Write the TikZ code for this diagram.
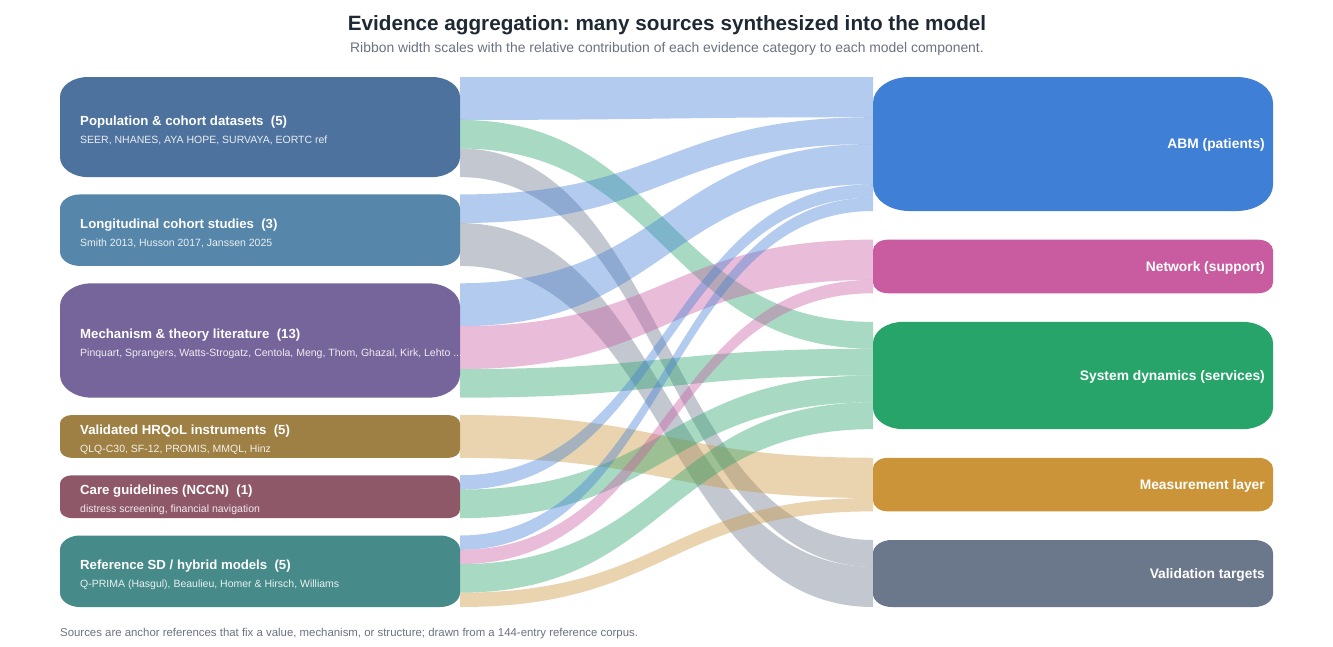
\documentclass[tikz,border=0pt]{standalone}
\usepackage{fontspec}
\setmainfont{Liberation Sans}
\usetikzlibrary{calc}
\frenchspacing
\definecolor{cPop}{HTML}{4E729E}
\definecolor{cLong}{HTML}{5686A9}
\definecolor{cMech}{HTML}{75659B}
\definecolor{cHrq}{HTML}{9E8044}
\definecolor{cCare}{HTML}{8F5869}
\definecolor{cRef}{HTML}{468B89}
\definecolor{cAbm}{HTML}{3F7FD5}
\definecolor{cNet}{HTML}{C95BA1}
\definecolor{cSys}{HTML}{27A46A}
\definecolor{cMeas}{HTML}{CB9438}
\definecolor{cVal}{HTML}{6B778A}
\definecolor{cTitle}{HTML}{1F2933}
\definecolor{cGrey}{HTML}{6B7280}
\newcommand\unitL{14.3pt}
\newcommand\unitR{13.4pt}
% rounded box with elliptical corners: name, cx, cy, w, h, colour
\newcommand\ebox[6]{%
  \node[minimum width=#4pt, minimum height=#5pt, inner sep=0pt, outer sep=0pt] (#1) at (#2,#3) {};
  \pgfmathsetmacro\boxry{min(0.2*#5,26)}%
  \pgfmathsetmacro\boxrx{1.4*\boxry}%
  \fill[#6] ([xshift=\boxrx pt]#1.north west) -- ([xshift=-\boxrx pt]#1.north east)
    arc[start angle=90, end angle=0, x radius=\boxrx pt, y radius=\boxry pt]
    -- ([yshift=\boxry pt]#1.south east)
    arc[start angle=0, end angle=-90, x radius=\boxrx pt, y radius=\boxry pt]
    -- ([xshift=\boxrx pt]#1.south west)
    arc[start angle=270, end angle=180, x radius=\boxrx pt, y radius=\boxry pt]
    -- ([yshift=-\boxry pt]#1.north west)
    arc[start angle=180, end angle=90, x radius=\boxrx pt, y radius=\boxry pt]
    -- cycle;}
% ribbon: colour, source, source offset (units), target, target offset (units), width (units)
\newcommand\ribbon[6]{%
  \fill[#1, fill opacity=0.4]
    ([yshift=-#3*\unitL]#2.north east)
    .. controls +(206.5,0) and +(-206.5,0) .. ([yshift=-#5*\unitR]#4.north west)
    -- ([yshift=-(#5+#6)*\unitR]#4.north west)
    .. controls +(-206.5,0) and +(206.5,0) .. ([yshift=-(#3+#6)*\unitL]#2.north east)
    -- cycle;}
\tikzset{
  lbl/.style={font=\fontsize{13.2}{15}\selectfont\bfseries, text=white, inner sep=0pt, anchor=base west},
  sublbl/.style={font=\fontsize{10.5}{12}\selectfont, text=white, text opacity=0.88, inner sep=0pt, anchor=base west},
  rlbl/.style={font=\fontsize{13.8}{16}\selectfont\bfseries, text=white, inner sep=0pt, anchor=base east},
}
\begin{document}
\begin{tikzpicture}[x=1pt,y=1pt]
\useasboundingbox (0,0) rectangle (1333,-646);
\fill[white] (0,0) rectangle (1333,-646);
% title
\node[font=\fontsize{20.7}{24}\selectfont\bfseries, text=cTitle, anchor=base, inner sep=0pt] (title) at (667,-30) {Evidence aggregation: many sources synthesized into the model};
\node[font=\fontsize{13.9}{16}\selectfont, text=cGrey, anchor=base, inner sep=0pt] (subtitle) at (667,-52.5) {Ribbon width scales with the relative contribution of each evidence category to each model component.};
\node[font=\fontsize{11.4}{13}\selectfont, text=cGrey, anchor=base west, inner sep=0pt] (footer) at (60,-636) {Sources are anchor references that fix a value, mechanism, or structure; drawn from a 144-entry reference corpus.};
% source boxes
\ebox{pop}{260}{-127.05}{400}{100.1}{cPop}
\ebox{long}{260}{-230.19}{400}{71.5}{cLong}
\ebox{mech}{260}{-340.48}{400}{114.4}{cMech}
\ebox{hrq}{260}{-436.47}{400}{42.9}{cHrq}
\ebox{care}{260}{-496.71}{400}{42.9}{cCare}
\ebox{ref}{260}{-571.25}{400}{71.5}{cRef}
% target boxes
\ebox{abm}{1073}{-144}{400}{134}{cAbm}
\ebox{net}{1073}{-266.45}{400}{53.6}{cNet}
\ebox{sys}{1073}{-375.5}{400}{107.2}{cSys}
\ebox{meas}{1073}{-484.55}{400}{53.6}{cMeas}
\ebox{val}{1073}{-573.5}{400}{67}{cVal}
% ribbons
\ribbon{cAbm}{pop}{0}{abm}{0}{3}
\ribbon{cSys}{pop}{3}{sys}{0}{2}
\ribbon{cVal}{pop}{5}{val}{0}{2}
\ribbon{cAbm}{long}{0}{abm}{3}{2}
\ribbon{cVal}{long}{2}{val}{2}{3}
\ribbon{cAbm}{mech}{0}{abm}{5}{3}
\ribbon{cNet}{mech}{3}{net}{0}{3}
\ribbon{cSys}{mech}{6}{sys}{2}{2}
\ribbon{cMeas}{hrq}{0}{meas}{0}{3}
\ribbon{cAbm}{care}{0}{abm}{8}{1}
\ribbon{cSys}{care}{1}{sys}{4}{2}
\ribbon{cAbm}{ref}{0}{abm}{9}{1}
\ribbon{cNet}{ref}{1}{net}{3}{1}
\ribbon{cSys}{ref}{2}{sys}{6}{2}
\ribbon{cMeas}{ref}{4}{meas}{3}{1}
% source labels
\node[lbl] (popT) at (80,-125) {Population \& cohort datasets~~(5)};
\node[sublbl] (popS) at (80,-143.1) {SEER, NHANES, AYA HOPE, SURVAYA, EORTC ref};
\node[lbl] (longT) at (80,-228.1) {Longitudinal cohort studies~~(3)};
\node[sublbl] (longS) at (80,-246.2) {Smith 2013, Husson 2017, Janssen 2025};
\node[lbl] (mechT) at (80,-338.4) {Mechanism \& theory literature~~(13)};
\node[sublbl] (mechS) at (80,-356.5) {Pinquart, Sprangers, Watts-Strogatz, Centola, Meng, Thom, Ghazal, Kirk, Lehto ...};
\node[lbl] (hrqT) at (80,-434.4) {Validated HRQoL instruments~~(5)};
\node[sublbl] (hrqS) at (80,-452.5) {QLQ-C30, SF-12, PROMIS, MMQL, Hinz};
\node[lbl] (careT) at (80,-494.6) {Care guidelines (NCCN)~~(1)};
\node[sublbl] (careS) at (80,-512.7) {distress screening, financial navigation};
\node[lbl] (refT) at (80,-569.2) {Reference SD / hybrid models~~(5)};
\node[sublbl] (refS) at (80,-587.3) {Q-PRIMA (Hasgul), Beaulieu, Homer \& Hirsch, Williams};
% target labels
\node[rlbl] (abmT) at (1265,-148.9) {ABM (patients)};
\node[rlbl] (netT) at (1265,-271.3) {Network (support)};
\node[rlbl] (sysT) at (1265,-380.4) {System dynamics (services)};
\node[rlbl] (measT) at (1265,-489.4) {Measurement layer};
\node[rlbl] (valT) at (1265,-578.4) {Validation targets};
\end{tikzpicture}
\end{document}
